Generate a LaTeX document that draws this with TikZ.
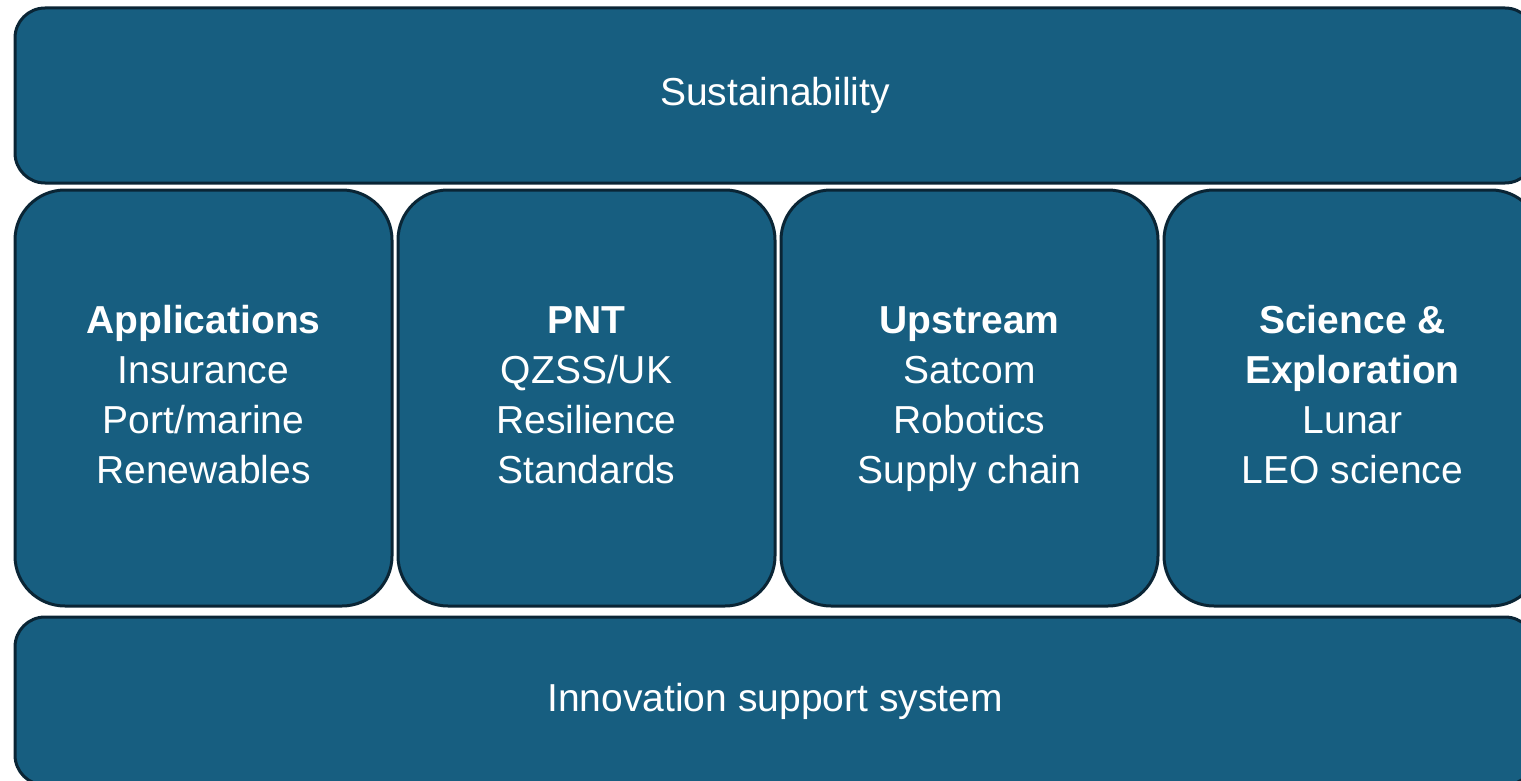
\documentclass[tikz,border=0pt]{standalone}
\usepackage{fontspec}
\setmainfont{Liberation Sans}
\definecolor{blocfond}{RGB}{23,94,128}
\definecolor{blocbord}{RGB}{10,37,53}

\begin{document}
\begin{tikzpicture}[x=0.5pt, y=-0.5pt]
\tikzset{bloc/.style={draw=blocbord, fill=blocfond, line width=1.5pt, text=white, align=center, font=\fontsize{19.5}{25}\selectfont}}
\useasboundingbox (0,0) rectangle (1521,781);
\clip (0,0) rectangle (1521,781);
\node[bloc, rounded corners=15pt, minimum width=760pt, minimum height=87.5pt] (S) at (775,95.5) {\strut Sustainability};
\node[bloc, rounded corners=25pt, minimum width=188.5pt, minimum height=208pt] (B1) at (203.5,398) {\strut\textbf{Applications}\\Insurance\\Port/marine\\Renewables\strut};
\node[bloc, rounded corners=25pt, minimum width=188.5pt, minimum height=208pt] (B2) at (586.5,398) {\strut\textbf{PNT}\\QZSS/UK\\Resilience\\Standards\strut};
\node[bloc, rounded corners=25pt, minimum width=188.5pt, minimum height=208pt] (B3) at (969.5,398) {\strut\textbf{Upstream}\\Satcom\\Robotics\\Supply chain\strut};
\node[bloc, rounded corners=25pt, minimum width=188.5pt, minimum height=208pt] (B4) at (1352.5,398) {\strut\textbf{Science \&}\\\textbf{Exploration}\\Lunar\\LEO science\strut};
\node[bloc, rounded corners=15pt, minimum width=760pt, minimum height=84pt] (I) at (775,701) {\strut Innovation support system};
\end{tikzpicture}
\end{document}
